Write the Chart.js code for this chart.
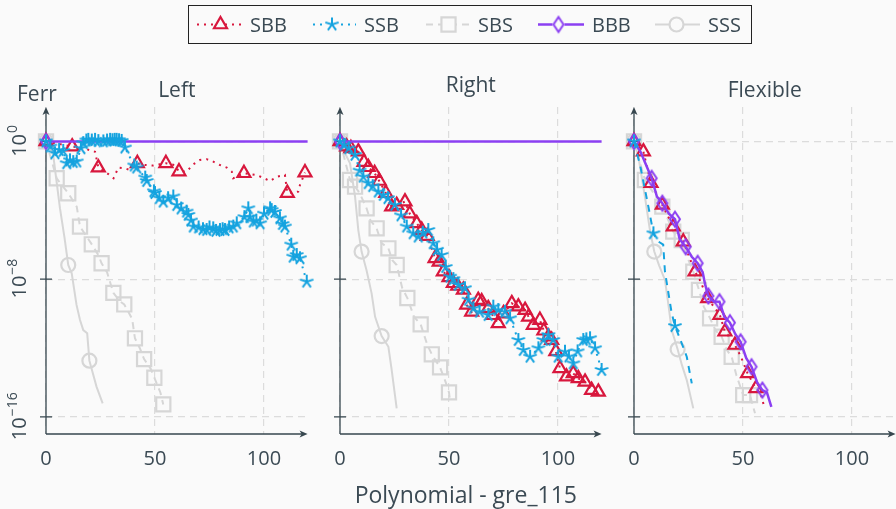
<!DOCTYPE html>
<html>
<head>
<meta charset="utf-8">
<script src="https://cdn.jsdelivr.net/npm/chart.js@4.4.0/dist/chart.umd.min.js"></script>
<style>
  html, body { margin: 0; padding: 0; background: #fafafa; }
  body { width: 896px; height: 509px; position: relative; overflow: hidden; }
  canvas { position: absolute; top: 0; }
</style>
</head>
<body>
<canvas id="c0" width="330" height="509" style="left:0px"></canvas>
<canvas id="c1" width="330" height="509" style="left:294px"></canvas>
<canvas id="c2" width="330" height="509" style="left:588px"></canvas>
<canvas id="legend" width="896" height="50" style="left:0px"></canvas>
<script>
// ---- data (x, log10 of Ferr) ----
const seriesNames = ['SBB', 'SSB', 'SBS', 'BBB', 'SSS'];
const panelTitles = ['Left', 'Right', 'Flexible'];
const xTicks = [0, 50, 100];
const yTicks = [1e0, 1e-8, 1e-16];
const yLabel = 'Ferr';
const xLabel = 'Polynomial - gre_115';

// Left
const sbbLeft = [[0,0],[12,-0.3],[17,-0.4],[20,-0.5],[22.5,-0.6],[24,-1.52],[28.6,-1.9],[31,-2.14],[33.2,-1.52],[36.2,-1.56],[38.5,-1.66],[41.9,-1.27],[45.4,-1.37],[49.2,-1.4],[52.3,-1.33],[55,-1.27],[59,-1.37],[61,-1.75],[64.5,-1.75],[67.6,-1.33],[70.6,-1.08],[73.7,-1.03],[76.7,-1.17],[79.8,-1.37],[82.9,-1.52],[85.2,-1.75],[85.9,-2.14],[90.8,-1.85],[96.6,-1.95],[100,-2.14],[102.8,-2.3],[105.8,-2.05],[109.6,-1.95],[110.7,-3.0],[115.7,-2.92],[116.5,-2.53],[118.8,-1.81]];
const sbbLeftMarks = [0,12,24,41.9,55,61,90.8,110.7,118.8];
const ssbLeft = [[0,0],[2,-0.3],[4.1,-0.69],[6,-0.5],[7.9,-0.55],[9.5,-1.27],[11,-1.1],[12.5,-1.2],[14.1,-1.17],[16,-0.4],[17.1,-0.1],[18.5,0.05],[19.4,0.09],[21,0.05],[22.5,0.09],[24,0.02],[26.3,0],[28,0.05],[29.4,0.09],[30.5,0.07],[31.5,0.09],[32.4,0.09],[33.5,0.07],[34.7,0.03],[36.2,-0.36],[40.5,-1.4],[41.6,-1.52],[45.5,-2.1],[46.2,-2.3],[49.5,-2.9],[50,-3.0],[52,-3.3],[53.8,-3.5],[56,-3.3],[58.4,-3.2],[60,-3.7],[62,-3.9],[64.5,-4.08],[65.3,-4.27],[66.5,-4.6],[67.6,-4.95],[70,-5.0],[72,-5.1],[73.7,-5.15],[75,-5.0],[76.7,-5.05],[78,-5.2],[79.8,-5.15],[81,-5.1],[82.1,-5.15],[84,-5.0],[85.9,-4.95],[87.5,-4.76],[91,-4.4],[92.8,-3.89],[93.5,-4.4],[95.1,-4.66],[96.5,-4.6],[98.2,-4.76],[100,-4.2],[102.8,-3.89],[103.5,-3.99],[105,-4.1],[107.3,-4.47],[108.5,-4.8],[109.6,-4.95],[112.5,-6.0],[113.4,-6.7],[115,-6.6],[116.5,-6.79],[119.6,-8.15]];
const sbsLeft = [[0,0],[4.9,-2.14],[7,-2.5],[10.2,-3.01],[14.1,-3.79],[15.6,-4.95],[19,-5.6],[21,-5.98],[24,-6.6],[25.5,-7.08],[28,-7.6],[30.9,-8.8],[34,-9.3],[35.9,-9.47],[39.5,-10.3],[40.8,-11.44],[43,-12.0],[45,-12.65],[48,-13.2],[49.7,-13.73],[52.5,-14.6],[53.8,-15.28]];
const sbsLeftMarks = [0,4.9,10.2,15.6,21,25.5,30.9,35.9,40.8,45,49.7,53.8];
const bbbLeft = [[0,0],[120,0]];
const bbbLeftMarks = [0];
const sssLeft = [[0,0],[1.5,-0.3],[3.3,-0.78],[6.4,-3.88],[8.5,-5.6],[10.2,-7.18],[11.8,-7.66],[14,-9.5],[15.6,-10.38],[17.1,-10.96],[18.9,-11.15],[19.9,-12.74],[23.2,-14.26],[26,-15.22]];
const sssLeftMarks = [0,10.2,19.9];

// Right
const sbbRight = [[0,0],[3,-0.3],[5,-0.4],[8.4,-0.59],[11,-1.2],[13,-1.5],[15.9,-1.85],[18,-2.3],[21,-3.0],[23.7,-3.79],[26,-3.7],[29.8,-3.5],[32,-4.2],[35.2,-4.76],[37.5,-5.15],[40,-5.5],[43.6,-6.79],[45.5,-7.0],[47.4,-7.57],[50,-7.9],[52,-8.24],[54,-8.4],[56.6,-8.63],[58.1,-9.5],[60.4,-9.9],[63.4,-9.22],[65,-9.3],[68,-9.7],[70,-10.1],[72.6,-10.57],[75,-10.0],[78.8,-9.41],[81.8,-9.6],[84.9,-9.8],[86.5,-10.2],[88.7,-10.67],[91.7,-10.38],[93.5,-11.0],[95.6,-11.35],[97.1,-11.54],[99,-12.2],[100.9,-13.19],[103.9,-13.67],[107,-13.48],[109.3,-13.77],[112.4,-13.97],[115.4,-14.45],[118.5,-14.55]];
const ssbRight = [[0,0],[2,-0.2],[4,-0.4],[6.9,-0.78],[9,-1.7],[10.7,-2.05],[13,-2.43],[15,-2.6],[17.6,-2.92],[19.9,-3.11],[22,-3.3],[25.2,-3.69],[28,-4.3],[30.6,-4.95],[33.6,-5.34],[35.9,-5.53],[38,-5.3],[40.5,-5.15],[42.8,-5.92],[44.5,-6.3],[46.6,-6.6],[48.5,-7.3],[50.5,-7.86],[52,-8.0],[54.3,-8.34],[57.3,-8.53],[59,-9.2],[61.2,-9.7],[64,-9.9],[68,-10.09],[70.3,-9.6],[72.6,-9.8],[75.7,-9.9],[78,-10.28],[81.8,-11.54],[84.1,-12.12],[87.2,-12.51],[91,-12.02],[93.3,-11.54],[95.6,-11.25],[97.8,-11.54],[100.1,-12.51],[103.2,-12.22],[105,-12.5],[107,-12.9],[109,-12.2],[111.6,-11.54],[113,-11.5],[114.7,-11.44],[117,-12.02],[120,-13.28]];
const sbsRight = [[0,0],[4.6,-2.24],[6.9,-2.63],[9,-3.0],[12.2,-3.89],[14,-4.6],[16.8,-5.05],[19,-5.9],[22.2,-6.21],[24,-6.9],[26,-7.18],[28.5,-8.5],[30.9,-9.1],[34,-10.2],[37,-10.63],[40,-11.8],[42.1,-12.37],[45.9,-13.13],[48.5,-14.0],[50,-14.58],[50.5,-15.13]];
const sbsRightMarks = [0,4.6,6.9,12.2,16.8,22.2,26,30.9,37,42.1,45.9,50];
const bbbRight = [[0,0],[120,0]];
const bbbRightMarks = [0];
const sssRight = [[0,0],[2.3,-0.69],[4.6,-1.27],[6.9,-3.2],[8.4,-5.15],[9.9,-6.4],[12.2,-7.5],[14.5,-8.83],[16.1,-10.19],[19.1,-11.31],[22.2,-11.93],[23.7,-13.28],[26,-15.51]];
const sssRightMarks = [0,9.9,19.1];

// Flexible
const sbbFlex = [[0,0],[4.3,-0.59],[7.8,-2.43],[13,-3.69],[18,-4.95],[22.6,-5.83],[28,-7.57],[30,-8.0],[33.8,-9.12],[36,-9.5],[39.4,-10.09],[41.7,-11.06],[44,-11.4],[46.3,-11.83],[49,-12.5],[52.1,-13.48],[55.9,-14.35],[58,-14.6],[59.8,-15.45]];
const sbbFlexMarks = [0,4.3,7.8,13,18,22.6,28,33.8,39.4,41.7,46.3,52.1,55.9];
const ssbFlex = [[0,0],[3,-1.5],[6.6,-3.79],[8.9,-5.34],[11,-5.8],[13.4,-6.0],[14.2,-7.57],[17.3,-9.99],[18.8,-10.73],[21.5,-11.6],[24.2,-12.51],[26.5,-14.06]];
const ssbFlexMarks = [0,8.9,18.8];
const sbsFlex = [[0,0],[5,-2.24],[9,-3.0],[13,-3.79],[18,-5.24],[21.9,-5.73],[25,-6.9],[27.2,-7.57],[29.8,-8.63],[32,-9.6],[34.9,-10.28],[37.5,-11.0],[40.2,-11.35],[42.5,-12.1],[44.8,-12.51],[47,-13.6],[50.1,-14.74],[53.2,-14.74],[55.5,-15.8]];
const sbsFlexMarks = [0,5,13,18,21.9,27.2,29.8,34.9,40.2,44.8,50.1,53.2];
const bbbFlex = [[0,0],[3,-0.6],[8.1,-2.14],[10.5,-3.2],[13,-3.59],[16,-4.2],[18.8,-4.52],[21,-5.7],[23.7,-6.12],[26.5,-6.7],[29.2,-7.08],[31.5,-7.6],[32.6,-8.3],[34.1,-8.98],[36.5,-9.3],[39.2,-9.31],[41.5,-10.2],[44,-10.53],[46.5,-11.2],[48.9,-11.64],[51.5,-12.6],[53.9,-13.09],[56.5,-14.0],[58.9,-14.45],[61,-14.6],[63,-15.42]];
const bbbFlexMarks = [0,8.1,13,18.8,23.7,29.2,34.1,39.2,44,48.9,53.9,58.9];
const sssFlex = [[0,0],[2,-0.88],[5,-3.2],[7.3,-5.15],[9.3,-6.4],[11.5,-7.2],[14.2,-8.05],[15.7,-9.41],[17.3,-10.96],[20,-12.08],[22,-13.0],[24.2,-13.87],[27.2,-15.51]];
const sssFlexMarks = [0,9.3,20];

// ---- styles ----
const FONT = '"Open Sans", "Noto Sans", sans-serif';
const TEXT = '#3b4a54';
const AXIS = '#37474f';

function starImg(color) {
  const c = document.createElement('canvas');
  c.width = c.height = 18;
  const g = c.getContext('2d');
  g.strokeStyle = color; g.lineWidth = 2;
  for (let k = 0; k < 5; k++) {
    const a = -Math.PI / 2 + k * 2 * Math.PI / 5;
    g.beginPath(); g.moveTo(9, 9); g.lineTo(9 + 7 * Math.cos(a), 9 + 7 * Math.sin(a)); g.stroke();
  }
  return c;
}
function diamondImg(color) {
  const c = document.createElement('canvas');
  c.width = 14; c.height = 20;
  const g = c.getContext('2d');
  g.strokeStyle = color; g.lineWidth = 2;
  g.beginPath(); g.moveTo(7, 2.5); g.lineTo(12, 10); g.lineTo(7, 17.5); g.lineTo(2, 10); g.closePath(); g.stroke();
  return c;
}

const styles = {
  SBB: {color: '#d8173d', lw: 2, dash: [2, 5], point: 'triangle', r: 7.5},
  SSB: {color: '#15a3df', lw: 2, dash: [2, 5], point: starImg('#15a3df'), r: 7},
  SBS: {color: '#d6d6d6', lw: 2, dash: [7, 5], point: 'rect', r: 10},
  BBB: {color: '#8b3ff2', lw: 2.5, dash: [], point: diamondImg('#8b3ff2'), r: 7},
  SSS: {color: '#d6d6d6', lw: 2, dash: [], point: 'circle', r: 7}
};
const drawOrder = ['SSB', 'BBB', 'SBB', 'SSS', 'SBS'];

const panels = [
  {id: 'c0', title: panelTitles[0], titleY: 96.7, yLabels: true,
   series: {SBB: [sbbLeft, sbbLeftMarks], SSB: [ssbLeft, null], SBS: [sbsLeft, sbsLeftMarks], BBB: [bbbLeft, bbbLeftMarks], SSS: [sssLeft, sssLeftMarks]}},
  {id: 'c1', title: panelTitles[1], titleY: 91.7, xTitle: true,
   series: {SBB: [sbbRight, null], SSB: [ssbRight, null], SBS: [sbsRight, sbsRightMarks], BBB: [bbbRight, bbbRightMarks], SSS: [sssRight, sssRightMarks]}},
  {id: 'c2', title: panelTitles[2], titleY: 97.3, ssbDash: [7, 6],
   series: {SBB: [sbbFlex, sbbFlexMarks], SSB: [ssbFlex, ssbFlexMarks], SBS: [sbsFlex, sbsFlexMarks], BBB: [bbbFlex, bbbFlexMarks], SSS: [sssFlex, sssFlexMarks]}}
];

function makeDataset(name, pts, marks, dashOverride) {
  const st = styles[name];
  const ms = marks ? new Set(marks) : null;
  return {
    label: name,
    data: pts.map(p => ({x: p[0], y: Math.pow(10, p[1])})),
    showLine: true,
    borderColor: st.color,
    borderWidth: st.lw,
    borderDash: dashOverride || st.dash,
    tension: 0,
    fill: false,
    clip: false,
    pointStyle: st.point,
    pointRadius: c => (!c.raw || !ms || ms.has(c.raw.x)) ? st.r : 0,
    pointHoverRadius: 0,
    pointBorderColor: st.color,
    pointBackgroundColor: 'rgba(0,0,0,0)',
    pointBorderWidth: 2.2
  };
}

function arrowHead(ctx, x, y, dir) {
  // dir: 'up' or 'right'
  ctx.beginPath();
  if (dir === 'up') {
    ctx.moveTo(x, y); ctx.lineTo(x - 3.5, y + 8); ctx.lineTo(x, y + 6); ctx.lineTo(x + 3.5, y + 8);
  } else {
    ctx.moveTo(x, y); ctx.lineTo(x - 8, y - 3.5); ctx.lineTo(x - 6, y); ctx.lineTo(x - 8, y + 3.5);
  }
  ctx.closePath(); ctx.fill();
}

const axesPlugin = {
  id: 'axes',
  beforeDatasetsDraw(chart, args, opts) {
    const {ctx, chartArea: a} = chart;
    const xs = chart.scales.x, ys = chart.scales.y;
    ctx.save();
    ctx.strokeStyle = AXIS; ctx.fillStyle = AXIS; ctx.lineWidth = 1.3;
    ctx.beginPath();
    ctx.moveTo(a.left, a.bottom); ctx.lineTo(a.left, a.top + 3);
    ctx.moveTo(a.left, a.bottom); ctx.lineTo(a.right - 3, a.bottom);
    ys.ticks.forEach(t => {
      const py = ys.getPixelForValue(t.value);
      ctx.moveTo(a.left - 6, py); ctx.lineTo(a.left + 6, py);
    });
    ctx.stroke();
    arrowHead(ctx, a.left, a.top, 'up');
    arrowHead(ctx, a.right, a.bottom, 'right');

    ctx.fillStyle = TEXT;
    ctx.textBaseline = 'alphabetic';
    ctx.textAlign = 'center';
    ctx.font = '20px ' + FONT;
    xs.ticks.forEach(t => ctx.fillText(String(t.value), xs.getPixelForValue(t.value), a.bottom + 31));

    ctx.font = '21px ' + FONT;
    ctx.fillText(opts.title, (a.left + a.right) / 2, opts.titleY);

    if (opts.yLabels) {
      ctx.textAlign = 'left';
      ctx.fillText(yLabel, a.left - 29, a.top - 6);
      ys.ticks.forEach(t => {
        const py = ys.getPixelForValue(t.value);
        const e = Math.round(Math.log10(t.value));
        const exp = e < 0 ? '\u2212' + (-e) : String(e);
        ctx.save();
        ctx.translate(a.left - 20, py);
        ctx.rotate(-Math.PI / 2);
        ctx.font = '20px ' + FONT;
        const w1 = ctx.measureText('10').width;
        ctx.font = '14px ' + FONT;
        const w2 = ctx.measureText(exp).width;
        const start = -(w1 + w2) / 2;
        ctx.font = '20px ' + FONT;
        ctx.fillText('10', start, 0);
        ctx.font = '14px ' + FONT;
        ctx.fillText(exp, start + w1 + 1, -9);
        ctx.restore();
      });
    }
    if (opts.xTitle) {
      ctx.textAlign = 'center';
      ctx.font = '23px ' + FONT;
      ctx.fillText(xLabel, (a.left + a.right) / 2 - 5, 503);
    }
    ctx.restore();
  }
};

panels.forEach(p => {
  const datasets = drawOrder.map(n => makeDataset(n, p.series[n][0], p.series[n][1], n === 'SSB' ? p.ssbDash : null));
  new Chart(document.getElementById(p.id), {
    type: 'scatter',
    data: {datasets},
    options: {
      responsive: false,
      animation: false,
      events: [],
      layout: {padding: {left: 0, right: 22.4, top: 107, bottom: 0}},
      scales: {
        x: {
          type: 'linear', min: 0, max: 120,
          afterBuildTicks: s => { s.ticks = xTicks.map(v => ({value: v})); },
          afterFit: s => { s.height = 75; },
          ticks: {display: false},
          grid: {color: '#dcdcdc', lineWidth: 1.2, drawTicks: false},
          border: {display: false, dash: [7, 5]}
        },
        y: {
          type: 'logarithmic', min: 1e-17, max: 1e2,
          afterBuildTicks: s => { s.ticks = yTicks.map(v => ({value: v})); },
          afterFit: s => { s.width = 46; },
          ticks: {display: false},
          grid: {color: '#dcdcdc', lineWidth: 1.2, drawTicks: false},
          border: {display: false, dash: [7, 5]}
        }
      },
      plugins: {
        legend: {display: false},
        tooltip: {enabled: false},
        axes: {title: p.title, titleY: p.titleY, yLabels: !!p.yLabels, xTitle: !!p.xTitle}
      }
    },
    plugins: [axesPlugin]
  });
});

// ---- legend ----
(function drawLegend() {
  const ctx = document.getElementById('legend').getContext('2d');
  ctx.strokeStyle = '#222'; ctx.lineWidth = 1;
  ctx.strokeRect(188.5, 5.5, 563, 38);
  const items = [
    {x1: 197, x2: 241, m: 220.5, t: 250},
    {x1: 313, x2: 356, m: 332, t: 364},
    {x1: 426, x2: 470, m: 448.5, t: 478},
    {x1: 538, x2: 584, m: 558.5, t: 592},
    {x1: 655, x2: 700, m: 676.5, t: 708}
  ];
  const y = 24.5;
  seriesNames.forEach((n, i) => {
    const st = styles[n], it = items[i];
    ctx.save();
    ctx.strokeStyle = st.color; ctx.lineWidth = st.lw; ctx.setLineDash(st.dash);
    ctx.beginPath(); ctx.moveTo(it.x1, y); ctx.lineTo(it.x2, y); ctx.stroke();
    ctx.setLineDash([]);
    ctx.fillStyle = '#fafafa'; ctx.lineWidth = 2.2;
    if (typeof st.point !== 'string') {
      ctx.fillRect(it.m - 6, y - 6, 12, 12);
      ctx.drawImage(st.point, it.m - st.point.width / 2, y - st.point.height / 2);
    } else {
      ctx.beginPath();
      if (st.point === 'triangle') {
        const r = st.r;
        ctx.moveTo(it.m, y - r); ctx.lineTo(it.m + r * 0.866, y + r / 2); ctx.lineTo(it.m - r * 0.866, y + r / 2); ctx.closePath();
      } else if (st.point === 'rect') {
        const h = st.r * Math.SQRT1_2;
        ctx.rect(it.m - h, y - h, 2 * h, 2 * h);
      } else {
        ctx.arc(it.m, y, st.r, 0, Math.PI * 2);
      }
      ctx.fill(); ctx.stroke();
    }
    ctx.restore();
    ctx.fillStyle = TEXT; ctx.font = '20px ' + FONT; ctx.textBaseline = 'alphabetic';
    ctx.fillText(n, it.t, 32);
  });
})();
</script>
</body>
</html>
